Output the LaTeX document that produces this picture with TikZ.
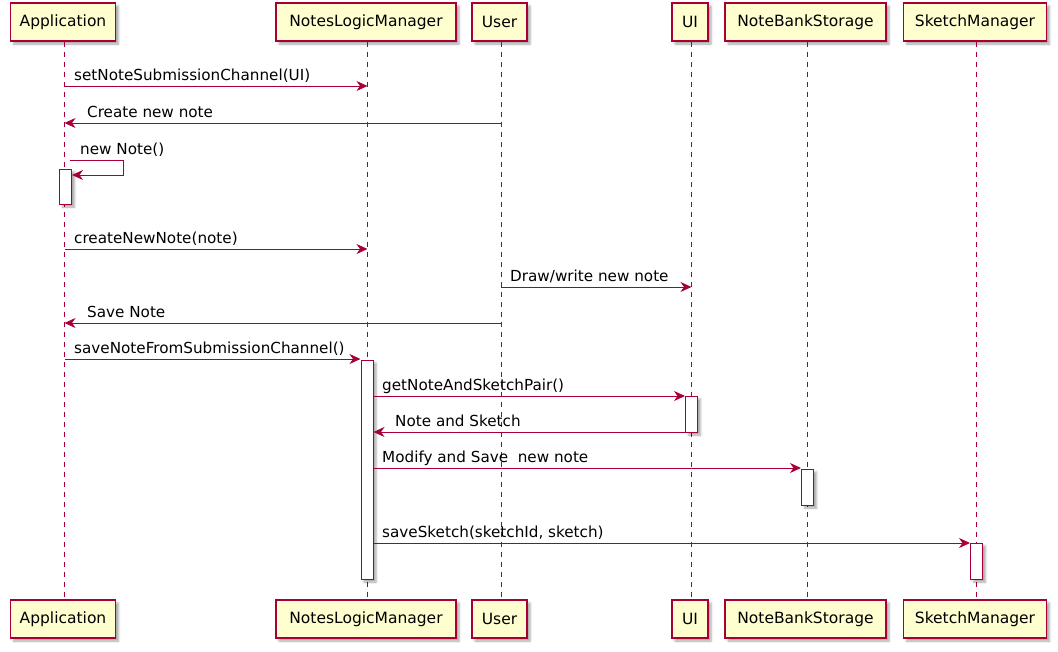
\documentclass[tikz,border=0pt]{standalone}
\usepackage{fontspec}
\setmainfont{DejaVu Sans}
\usepackage{tikz}
\usetikzlibrary{arrows.meta,positioning,shadows.blur}
\definecolor{PUred}{HTML}{A80036}
\definecolor{PUfill}{HTML}{FEFECE}
\tikzset{
  actor/.style={draw=PUred,fill=PUfill,line width=1.1pt,inner sep=0pt,
                minimum height=38pt,font=\fontsize{15.5}{18}\selectfont,
                blur shadow={shadow xshift=3pt,shadow yshift=-3pt,shadow blur steps=4,shadow opacity=35}},
  life/.style={PUred,line width=0.9pt,dash pattern=on 5pt off 5pt},
  act/.style={draw=PUred,fill=white,line width=1pt,minimum width=12pt,inner sep=0pt,
              blur shadow={shadow xshift=3pt,shadow yshift=-3pt,shadow blur steps=4,shadow opacity=35}},
  msg/.style={-{Stealth[length=11pt,width=10pt,inset=3.5pt]},PUred,line width=1pt},
  lbl/.style={font=\fontsize{15.2}{18}\selectfont,anchor=base west,inner sep=0pt},
}
\begin{document}
\begin{tikzpicture}[x=1pt,y=-1pt]
  \useasboundingbox (0,0) rectangle (1058,651);
  % participants, top and bottom
  \foreach \n/\x/\w/\t in {App/63/105/Application,NLM/366/180/NotesLogicManager,
      User/499.5/55/User,UI/690/36/UI,NBS/805.5/161/NoteBankStorage,SM/975/143/SketchManager}{
    \node[actor,minimum width=\w pt] (top\n) at (\x,22) {\t};
    \node[actor,minimum width=\w pt] (bot\n) at (\x,619) {\t};
    \coordinate (l\n) at ([xshift=1.5pt]top\n.south);
    \draw[life] (l\n) -- (l\n |- bot\n.north);
  }
  % activations
  \node[act,minimum height=35pt] (actApp) at (65.5,186.5) {};
  \node[act,minimum height=219pt] (actNLM) at (367,469.5) {};
  \node[act,minimum height=36pt] (actUI) at (691.5,414) {};
  \node[act,minimum height=36pt] (actNBS) at (807.5,487) {};
  \node[act,minimum height=36pt] (actSM) at (976.5,561) {};
  % messages
  \draw[msg] (lApp |- 0,86) -- (lNLM |- 0,86);
  \node[lbl] (m1) at (74,80) {setNoteSubmissionChannel(UI)};
  \draw[msg] (lUser |- 0,123) -- (lApp |- 0,123);
  \node[lbl] (m2) at (87,117) {Create new note};
  \draw[msg] (70,160) -- (123,160) -- (123,175) -- (actApp.east |- 0,175);
  \node[lbl] (m3) at (80,154) {new Note()};
  \draw[msg] (lApp |- 0,249) -- (lNLM |- 0,249);
  \node[lbl] (m4) at (74,243) {createNewNote(note)};
  \draw[msg] (lUser |- 0,287) -- (lUI |- 0,287);
  \node[lbl] (m5) at (510,281) {Draw/write new note};
  \draw[msg] (lUser |- 0,323) -- (lApp |- 0,323);
  \node[lbl] (m6) at (87,317) {Save Note};
  \draw[msg] (lApp |- 0,359) -- (actNLM.west |- 0,359);
  \node[lbl] (m7) at (74,353) {saveNoteFromSubmissionChannel()};
  \draw[msg] (actNLM.east |- 0,396) -- (actUI.west |- 0,396);
  \node[lbl] (m8) at (382,390) {getNoteAndSketchPair()};
  \draw[msg] (actUI.west |- 0,432) -- (actNLM.east |- 0,432);
  \node[lbl] (m9) at (395,426) {Note and Sketch};
  \draw[msg] (actNLM.east |- 0,468) -- (actNBS.west |- 0,468);
  \node[lbl] (m10) at (382,462) {Modify and Save\ \ new note};
  \draw[msg] (actNLM.east |- 0,543) -- (actSM.west |- 0,543);
  \node[lbl] (m11) at (382,537) {saveSketch(sketchId, sketch)};
\end{tikzpicture}
\end{document}
